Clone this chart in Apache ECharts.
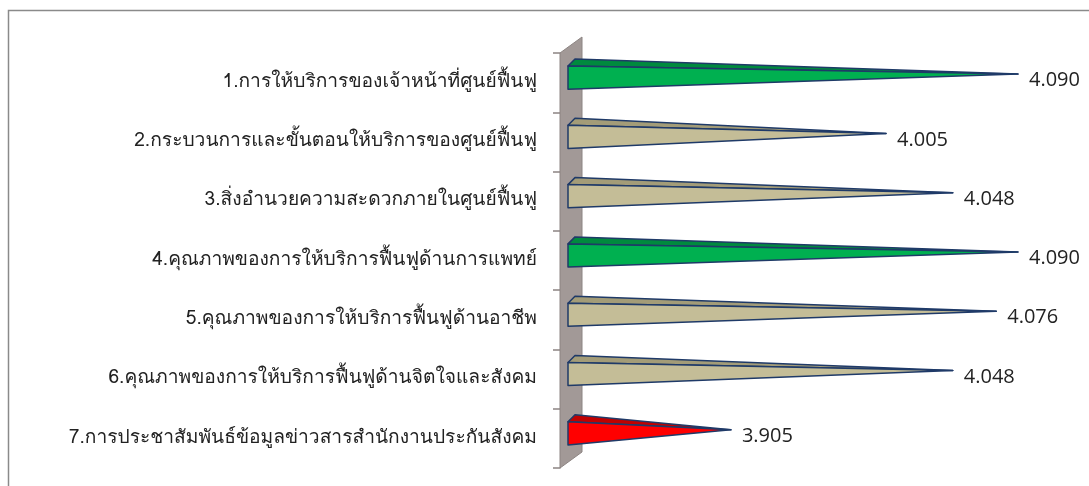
<!DOCTYPE html>
<html><head><meta charset="utf-8">
<script src="https://cdn.jsdelivr.net/npm/echarts@6/dist/echarts.min.js"></script>
<style>html,body{margin:0;padding:0;background:#fff}#c{width:1089px;height:486px}</style>
</head><body><div id="c"></div>
<script>
const categories = [
  '1.การให้บริการของเจ้าหน้าที่ศูนย์ฟื้นฟู',
  '2.กระบวนการและขั้นตอนให้บริการของศูนย์ฟื้นฟู',
  '3.สิ่งอำนวยความสะดวกภายในศูนย์ฟื้นฟู',
  '4.คุณภาพของการให้บริการฟื้นฟูด้านการแพทย์',
  '5.คุณภาพของการให้บริการฟื้นฟูด้านอาชีพ',
  '6.คุณภาพของการให้บริการฟื้นฟูด้านจิตใจและสังคม',
  '7.การประชาสัมพันธ์ข้อมูลข่าวสารสำนักงานประกันสังคม'
];
const values = [4.090, 4.005, 4.048, 4.090, 4.076, 4.048, 3.905];
const colorKind = ['green', 'tan', 'tan', 'green', 'tan', 'tan', 'red'];

const palette = {
  green: {front: '#00B050', top: '#008A3E'},
  tan: {front: '#C4BD97', top: '#A39C78'},
  red: {front: '#FF0000', top: '#C00000'}
};
const X_MIN = 3.8, X_MAX = 4.13;

const chart = echarts.init(document.getElementById('c'));
const FONT = '"Loma", "Garuda", "Noto Sans Thai Looped", "Noto Serif Thai", "Noto Sans", sans-serif';
const NUMFONT = '"Open Sans", "Noto Sans", sans-serif';

function renderCone(params, api) {
  const idx = api.value(0);
  const val = api.value(1);
  const base = api.coord([X_MIN, idx]);
  const tip = api.coord([val, idx]);
  const band = api.size([0, 1])[1];
  const cy = base[1] - band * 0.085;
  const h = band * 0.195;
  const d = 7;
  const x0 = base[0];
  const apex = [tip[0], cy - d / 2];
  const c = palette[colorKind[params.dataIndex]];
  const stroke = '#1F3A68';
  return {
    type: 'group',
    children: [
      {type: 'polygon', shape: {points: [[x0, cy - h], [x0 + d, cy - h - d], apex]},
        style: {fill: c.top, stroke: stroke, lineWidth: 1.5, lineJoin: 'round'}},
      {type: 'polygon', shape: {points: [[x0, cy - h], [x0, cy + h], apex]},
        style: {fill: c.front, stroke: stroke, lineWidth: 1.5, lineJoin: 'round'}},
      {type: 'text', style: {text: val.toFixed(3), x: apex[0] + 11, y: base[1] - 2, fill: '#222',
        font: '20px ' + NUMFONT, verticalAlign: 'middle', align: 'left'}}
    ]
  };
}

function renderWall(params, api) {
  const top = api.coord([X_MIN, 0]);
  const bot = api.coord([X_MIN, categories.length - 1]);
  const band = api.size([0, 1])[1];
  const y0 = top[1] - band / 2, y1 = bot[1] + band / 2;
  const xl = top[0] - 8, xr = top[0] + 14;
  return {
    type: 'polygon',
    shape: {points: [[xl, y0], [xr, y0 - 16], [xr, y1 - 16], [xl, y1]]},
    style: {fill: '#A29997', stroke: '#8C8482', lineWidth: 1}
  };
}

chart.setOption({
  animation: false,
  graphic: [{type: 'rect', shape: {x: 8.5, y: 10.5, width: 1200, height: 600},
    style: {fill: 'none', stroke: '#8a8a8a', lineWidth: 1.5}, z: 0}],
  grid: {left: 568, right: 9, top: 53, bottom: 18},
  xAxis: {type: 'value', min: X_MIN, max: X_MAX, show: false},
  yAxis: {
    type: 'category', data: categories, inverse: true, offset: 8,
    axisLine: {show: true, lineStyle: {color: '#8C8482', width: 1}},
    axisTick: {show: true, length: 7, lineStyle: {color: '#8C8482', width: 1.5}},
    axisLabel: {margin: 23, color: '#222', fontSize: 19.2, fontFamily: FONT, padding: [7, 0, 0, 0]}
  },
  series: [
    {type: 'custom', renderItem: renderWall, data: [[0, X_MIN]], encode: {x: 1, y: 0}, z: 1, silent: true},
    {type: 'custom', renderItem: renderCone,
      data: values.map((v, i) => [i, v]), encode: {x: 1, y: 0}, z: 2}
  ]
});
</script></body></html>
